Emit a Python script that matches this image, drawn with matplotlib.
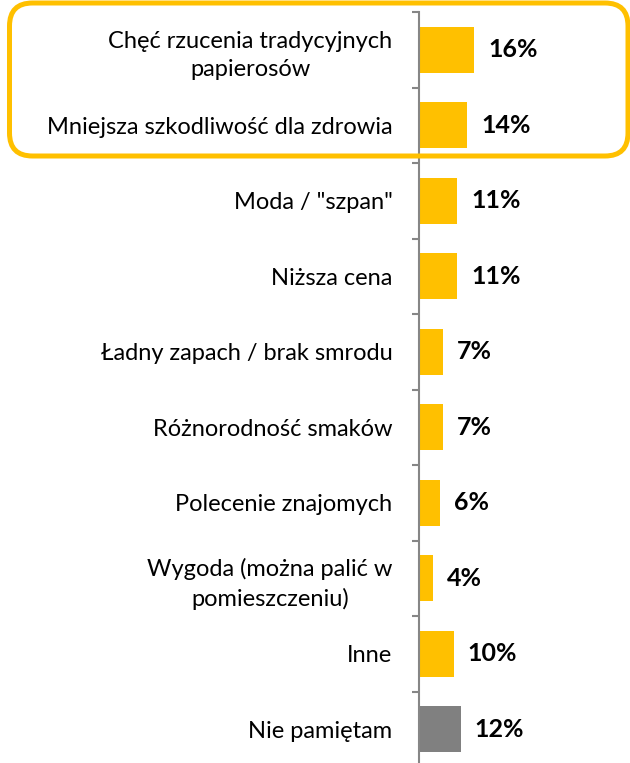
import matplotlib
matplotlib.use("Agg")
import matplotlib.pyplot as plt
from matplotlib.patches import FancyBboxPatch
from matplotlib.transforms import IdentityTransform
import numpy as np

plt.rcParams['font.family'] = ['Lato', 'DejaVu Sans']

# data
categories = ['Chęć rzucenia tradycyjnych\npapierosów',
              'Mniejsza szkodliwość dla zdrowia',
              'Moda / "szpan"',
              'Niższa cena',
              'Ładny zapach / brak smrodu',
              'Różnorodność smaków',
              'Polecenie znajomych',
              'Wygoda (można palić w\npomieszczeniu)',
              'Inne',
              'Nie pamiętam']
values = [16, 14, 11, 11, 7, 7, 6, 4, 10, 12]
colors = ['#FFC000'] * 9 + ['#808080']

W, H = 630, 763
fig = plt.figure(figsize=(W / 100, H / 100), dpi=100)
ax = fig.add_axes([419 / W, -4 / H, (W - 419) / W, 755 / H])

y = np.arange(len(categories))
ax.barh(y, values, height=0.61, color=colors)
ax.set_ylim(len(categories) - 0.5, -0.5)
ax.set_xlim(0, 61)

for i, v in enumerate(values):
    ax.annotate(f'{v}%', (v, i), xytext=(10, 0), textcoords='offset points',
                ha='left', va='center', fontsize=18, fontweight='bold', color='black')

for s in ['top', 'right', 'bottom']:
    ax.spines[s].set_visible(False)
ax.spines['left'].set_color('#868686')
ax.spines['left'].set_linewidth(1.5)
ax.set_xticks([])
ax.set_yticks(y)
ax.set_yticklabels(categories, fontsize=17, multialignment='center', linespacing=1.42)
ax.tick_params(axis='y', length=0, pad=19)
ax.set_yticks(np.arange(len(categories) + 1) - 0.5, minor=True)
ax.tick_params(axis='y', which='minor', length=5, width=1.5, color='#868686')

# highlight frame around top two items (pixel coordinates)
box = FancyBboxPatch((9.5, H - 156), 618.5, 153,
                     boxstyle='round,pad=0,rounding_size=23',
                     transform=IdentityTransform(), fill=False,
                     edgecolor='#FFC000', linewidth=3.6, clip_on=False)
fig.patches.append(box)

fig.savefig('out.png', dpi=100)
